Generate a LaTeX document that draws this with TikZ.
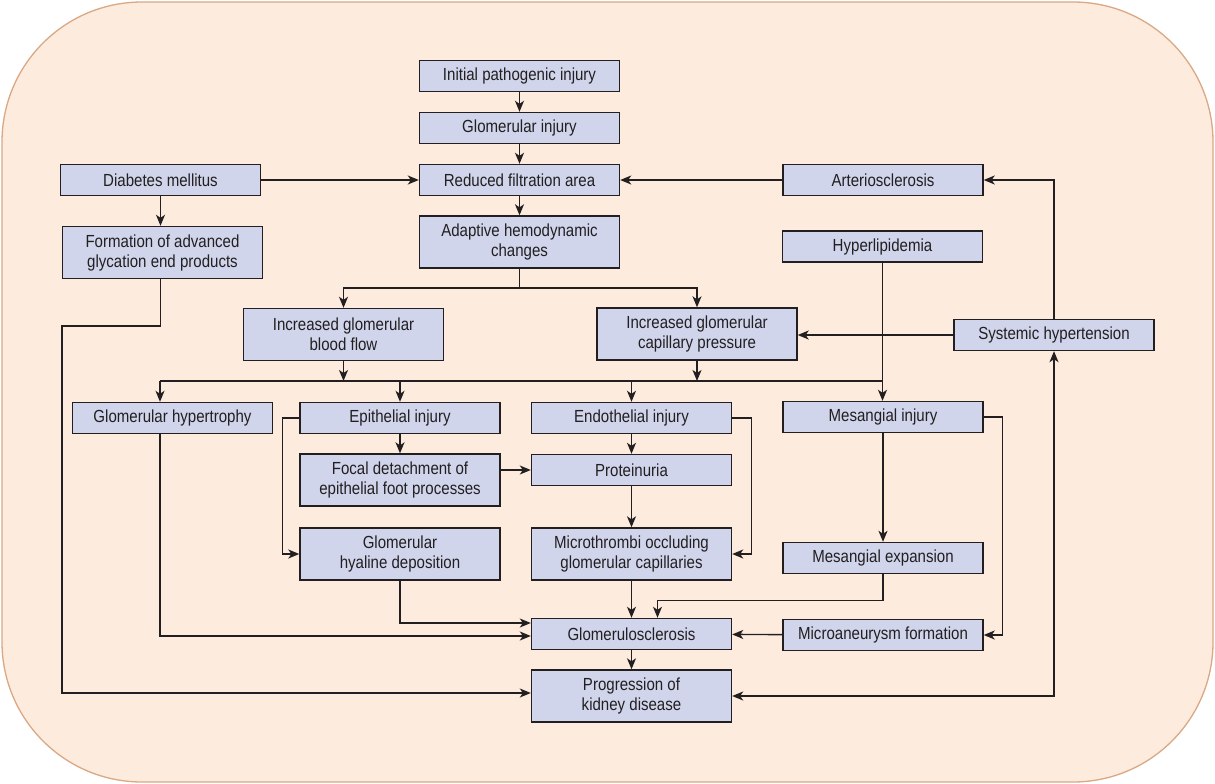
\documentclass[tikz,border=0pt]{standalone}
\usepackage{fontspec}
\setmainfont{Liberation Sans}[FakeStretch=0.86]
\usetikzlibrary{arrows.meta,calc}
\definecolor{bgc}{HTML}{FDEBDD}
\definecolor{bgline}{HTML}{D9A885}
\definecolor{boxc}{HTML}{D0D5EC}
\definecolor{linec}{HTML}{231F20}
\begin{document}
\begin{tikzpicture}[x=1pt,y=-1pt,
 box/.style={draw=linec, fill=boxc, line width=1.4pt, minimum width=200pt, minimum height=31pt, inner sep=0pt, align=center, font=\fontsize{17.5}{20}\selectfont, text=linec},
 tall/.style={box, minimum height=52pt},
 conn/.style={draw=linec, line width=1.4pt},
 tip/.tip={Stealth[length=11pt,width=9pt,inset=3pt]},
 arr/.style={conn, -tip},
]
\useasboundingbox (0,0) rectangle (1215,784);
\draw[fill=bgc, draw=bgline, line width=1.3pt, rounded corners=140pt] (2,2) rectangle (1213,782);

\node[box] (init) at (519.5,76) {Initial pathogenic injury};
\node[box] (glom) at (519.5,128) {Glomerular injury};
\node[box] (red) at (519.5,180) {Reduced filtration area};
\node[tall] (adapt) at (519.5,242) {Adaptive hemodynamic\\changes};
\node[box] (dm) at (160.5,180) {Diabetes mellitus};
\node[tall] (age) at (162.5,252.5) {Formation of advanced\\glycation end products};
\node[box] (arter) at (883,180) {Arteriosclerosis};
\node[box] (lipid) at (882.5,246.5) {Hyperlipidemia};
\node[tall] (flow) at (343.5,334.5) {Increased glomerular\\blood flow};
\node[tall] (press) at (697,334) {Increased glomerular\\capillary pressure};
\node[box] (sys) at (1054,335) {Systemic hypertension};
\node[box] (hyper) at (172.5,418) {Glomerular hypertrophy};
\node[box] (epi) at (400,418) {Epithelial injury};
\node[box] (endo) at (631.5,418) {Endothelial injury};
\node[box] (mes) at (883,417) {Mesangial injury};
\node[tall] (focal) at (400,480) {Focal detachment of\\epithelial foot processes};
\node[box] (prot) at (631.5,470) {Proteinuria};
\node[tall] (hyal) at (400,554) {Glomerular\\hyaline deposition};
\node[tall] (micro) at (631.5,554) {Microthrombi occluding\\glomerular capillaries};
\node[box] (mexp) at (883,558) {Mesangial expansion};
\node[box] (gs) at (631.5,634) {Glomerulosclerosis};
\node[box] (aneur) at (883,635) {Microaneurysm formation};
\node[tall] (prog) at (631.5,696) {Progression of\\kidney disease};

\coordinate (ageL) at (62,326);
\coordinate (split) at (519.5,288);
\coordinate (busL) at (160,381);
\coordinate (busR) at (883,381);

\draw[arr] (init) -- (glom);
\draw[arr] (glom) -- (red);
\draw[arr] (red) -- (adapt);
\draw[arr] (dm) -- (red);
\draw[arr] (arter) -- (red);
\draw[arr] (dm.south) -- (dm.south |- age.north);
\draw[arr] (age.south -| dm.south) |- (ageL) |- ($(prog.west)+(0,-3)$);

\draw[conn] (adapt.south) -- (split);
\draw[arr] (split) -| (flow.north);
\draw[arr] (split) -| (press.north);
\draw[arr] (flow.south) -- (flow.south |- busL);
\draw[arr] (press.south) -- (press.south |- busL);
\draw[conn] (busL) -- (busR);
\draw[arr] (busL) -- (busL |- hyper.north);
\draw[arr] (epi.north |- busL) -- (epi.north);
\draw[arr] (endo.north |- busL) -- (endo.north);
\draw[arr] (lipid.south) -- (lipid.south |- mes.north);

\draw[arr] (epi) -- (focal);
\draw[arr] (epi.west) -- ++(-17,0) |- (hyal.west);
\draw[arr] (focal.east |- prot) -- (prot.west);
\draw[arr] (endo) -- (prot);
\draw[arr] (prot) -- (micro);
\draw[arr] (endo.east) -- ++(19,0) |- (micro.east);
\draw[arr] (micro) -- (gs);
\draw[arr] (mes) -- (mexp);
\draw[arr] (mexp.south) -- ++(0,26) -| ($(gs.north)+(26,0)$);
\draw[arr] (mes.east) -- ++(19,0) |- (aneur.east);
\draw[arr] (aneur) -- (gs);
\draw[arr] (busL |- hyper.south) |- ($(gs.west)+(0,2)$);
\draw[arr] (hyal.south) |- ($(gs.west)+(0,-11)$);
\draw[arr] (gs) -- (prog);

\draw[arr] (sys.west) -- (sys.west -| press.east);
\draw[arr] (sys.north) |- (arter.east);
\draw[conn, tip-tip] (prog.east) -| (sys.south);
\end{tikzpicture}
\end{document}
